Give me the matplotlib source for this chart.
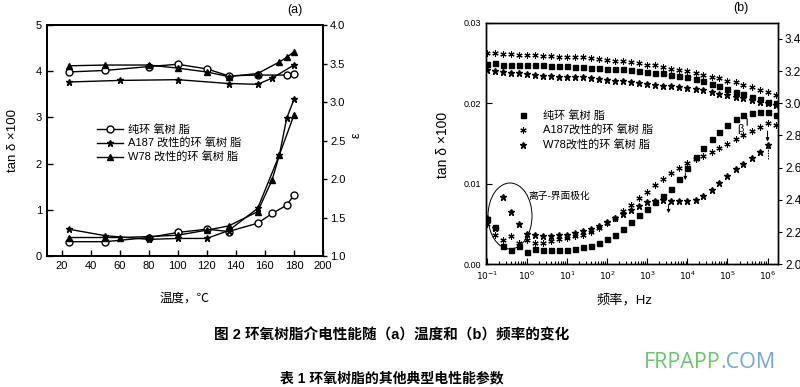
import numpy as np
import matplotlib.pyplot as plt
from matplotlib.patches import Ellipse

plt.rcParams['font.family'] = ['Liberation Sans', 'Noto Sans CJK SC', 'DejaVu Sans']

# ---- (a) 温度 ----
t_pure = [25, 50, 80, 100, 120, 135, 155, 165, 175, 180]
tan_pure_t = [0.31, 0.31, 0.40, 0.51, 0.58, 0.53, 0.71, 0.92, 1.10, 1.32]
t_pure_eps = [25, 50, 80, 100, 120, 135, 155, 175, 180]
eps_pure_t = [3.39, 3.41, 3.46, 3.49, 3.43, 3.34, 3.35, 3.35, 3.36]

t_a187 = [25, 50, 80, 100, 120, 135, 155, 170, 175, 180]
tan_a187_t = [0.58, 0.44, 0.36, 0.38, 0.38, 0.55, 1.03, 2.19, 2.98, 3.39]
t_a187_eps = [25, 60, 100, 135, 155, 165, 180]
eps_a187_t = [3.26, 3.28, 3.29, 3.24, 3.23, 3.31, 3.48]

t_w78 = [25, 50, 60, 80, 100, 120, 135, 155, 165, 170, 180]
tan_w78_t = [0.40, 0.40, 0.40, 0.42, 0.45, 0.56, 0.65, 0.96, 1.65, 2.19, 3.05]
t_w78_eps = [25, 50, 80, 100, 120, 135, 155, 170, 175, 180]
eps_w78_t = [3.47, 3.48, 3.48, 3.44, 3.39, 3.33, 3.37, 3.52, 3.58, 3.65]

# ---- (b) 频率 ----
freq = [0.1, 0.16, 0.25, 0.4, 0.63, 1, 1.6, 2.5, 4, 6.3,
        10, 16, 25, 40, 63, 100, 160, 250, 400, 630,
        1e3, 1.6e3, 2.5e3, 4e3, 6.3e3, 1e4, 1.6e4, 2.5e4, 4e4, 6.3e4,
        1e5, 1.6e5, 2.5e5, 4e5, 6.3e5, 1e6, 1.6e6]

tan_pure_f = [0.0056, 0.0046, 0.0023, 0.0018, 0.0023, 0.0015, 0.0019, 0.0018, 0.0018, 0.0018,
              0.0018, 0.0019, 0.0021, 0.0023, 0.0026, 0.0031, 0.0037, 0.0044, 0.0052, 0.0061,
              0.0069, 0.0077, 0.0085, 0.0094, 0.0106, 0.0120, 0.0133, 0.0144, 0.0155, 0.0164,
              0.0173, 0.0180, 0.0185, 0.0188, 0.0189, 0.0189, 0.0186]
tan_a187_f = [0.0050, 0.0036, 0.0030, 0.0035, 0.0027, 0.0030, 0.0026, 0.0027, 0.0029, 0.0031,
              0.0033, 0.0035, 0.0037, 0.0040, 0.0045, 0.0051, 0.0058, 0.0066, 0.0074, 0.0082,
              0.0090, 0.0098, 0.0106, 0.0113, 0.0120, 0.0126, 0.0131, 0.0135, 0.0140, 0.0144,
              0.0149, 0.0155, 0.0161, 0.0166, 0.0171, 0.0175, 0.0173]
tan_w78_f = [0.0058, 0.0045, 0.0083, 0.0065, 0.0050, 0.0038, 0.0036, 0.0035, 0.0035, 0.0036,
             0.0037, 0.0039, 0.0041, 0.0044, 0.0048, 0.0053, 0.0058, 0.0063, 0.0068, 0.0073,
             0.0077, 0.0079, 0.0080, 0.0079, 0.0078, 0.0078, 0.0080, 0.0085, 0.0092, 0.0101,
             0.0110, 0.0118, 0.0125, 0.0132, 0.0139, 0.0148, np.nan]

eps_pure_f = [3.245, 3.25, 3.24, 3.24, 3.24, 3.235, 3.235, 3.235, 3.23, 3.23,
              3.23, 3.225, 3.225, 3.22, 3.22, 3.215, 3.21, 3.21, 3.205, 3.20,
              3.195, 3.19, 3.185, 3.175, 3.17, 3.16, 3.15, 3.135, 3.12, 3.105,
              3.09, 3.07, 3.055, 3.04, 3.025, 3.01, 3.00]
eps_a187_f = [3.31, 3.31, 3.305, 3.305, 3.30, 3.30, 3.30, 3.295, 3.295, 3.29,
              3.29, 3.29, 3.285, 3.28, 3.275, 3.27, 3.265, 3.26, 3.255, 3.25,
              3.24, 3.235, 3.225, 3.215, 3.205, 3.20, 3.19, 3.175, 3.165, 3.155,
              3.14, 3.13, 3.115, 3.10, 3.085, 3.07, 3.05]
eps_w78_f = [3.205, 3.20, 3.195, 3.19, 3.185, 3.18, 3.175, 3.17, 3.17, 3.165,
             3.165, 3.16, 3.16, 3.155, 3.15, 3.145, 3.14, 3.135, 3.13, 3.125,
             3.12, 3.115, 3.11, 3.105, 3.10, 3.095, 3.09, 3.08, 3.07, 3.06,
             3.05, 3.04, 3.03, 3.02, 3.01, 3.00, 2.99]

lab_a = ['纯环 氧树 脂', 'A187 改性的环 氧树 脂', 'W78 改性的环 氧树 脂']
lab_b = ['纯环 氧树 脂', 'A187改性的环 氧树 脂', 'W78改性的环 氧树 脂']

fig = plt.figure(figsize=(8, 3.87), dpi=100)
W, H = 800, 387

# panel (a)
ax1 = fig.add_axes([47 / W, 1 - 256 / H, 276 / W, 231 / H])
ax1r = ax1.twinx()
kw = dict(color='black', lw=1.0, ms=5)
l1, = ax1.plot(t_pure, tan_pure_t, marker='o', mfc='white', **kw)
l2, = ax1.plot(t_a187, tan_a187_t, marker='*', **kw)
l3, = ax1.plot(t_w78, tan_w78_t, marker='^', **kw)
ax1r.plot(t_pure_eps, eps_pure_t, marker='o', mfc='white', **kw)
ax1r.plot(t_a187_eps, eps_a187_t, marker='*', **kw)
ax1r.plot(t_w78_eps, eps_w78_t, marker='^', **kw)

ax1.set_xlim(10, 200)
ax1.set_ylim(0, 5)
ax1r.set_ylim(1.0, 4.0)
ax1.set_xticks(range(20, 201, 20))
ax1.set_yticks(range(0, 6))
ax1r.set_yticks(np.arange(1.0, 4.01, 0.5))
ax1r.set_yticklabels([f'{v:.1f}' for v in np.arange(1.0, 4.01, 0.5)])
ax1.tick_params(direction='in', labelsize=8, length=4, width=1)
ax1r.tick_params(direction='out', labelsize=8, length=3, width=1, pad=2)
for a in (ax1, ax1r):
    for s in a.spines.values():
        s.set_linewidth(1.3)

ax1.legend([l1, l2, l3], lab_a, loc='upper left', frameon=False,
           bbox_to_anchor=((97 - 47) / 276, (256 - 124) / 231), borderaxespad=0,
           borderpad=0, handlelength=2.3, labelspacing=0.28, handletextpad=0.5,
           fontsize=8)

# panel (b)
ax2 = fig.add_axes([486 / W, 1 - 264.3 / H, 292 / W, 241.6 / H])
ax2r = ax2.twinx()
ax2.set_xscale('log')
ast = (6, 2, 0)
m1, = ax2.plot(freq, tan_pure_f, ls='none', marker='s', color='black', ms=3.6)
m2, = ax2.plot(freq, tan_a187_f, ls='none', marker=ast, color='black', ms=4.5, mew=0.8)
m3, = ax2.plot(freq, tan_w78_f, ls='none', marker='*', color='black', ms=4.5)
ax2r.plot(freq, eps_pure_f, ls='none', marker='s', color='black', ms=3.6)
ax2r.plot(freq, eps_a187_f, ls='none', marker=ast, color='black', ms=4.5, mew=0.8)
ax2r.plot(freq, eps_w78_f, ls='none', marker='*', color='black', ms=4.5)

ax2.set_xlim(10 ** -1.02, 10 ** 6.26)
ax2.set_ylim(0, 0.03)
ax2r.set_ylim(2.0, 3.5)
ax2.set_xticks([10.0 ** k for k in range(-1, 7)])
ax2.set_xticklabels([f'$10^{{{k}}}$' for k in range(-1, 7)])
ax2.set_yticks([0, 0.01, 0.02, 0.03])
ax2.set_yticklabels(['0.00', '0.01', '0.02', '0.03'])
ax2r.set_yticks(np.arange(2.0, 3.41, 0.2))
ax2r.set_yticklabels([f'{v:.1f}' for v in np.arange(2.0, 3.41, 0.2)])
ax2.tick_params(which='both', direction='in', labelsize=6.5, width=0.8)
ax2.tick_params(which='major', length=4)
ax2.tick_params(which='minor', length=2)
ax2r.tick_params(direction='out', labelsize=8.5, length=3, pad=2)
for a in (ax2, ax2r):
    for s in a.spines.values():
        s.set_linewidth(1.0)

ax2.legend([m1, m2, m3], lab_b, loc='upper left', frameon=False,
           bbox_to_anchor=((516 - 486) / 292, (264.3 - 110) / 241.6), borderaxespad=0,
           borderpad=0, handlelength=1.2, labelspacing=0.35, handletextpad=1.2,
           fontsize=8)

# annotations in (b)
ax2.add_patch(Ellipse(((510 - 486) / 292, (264.3 - 216) / 241.6), 44 / 292, 66 / 241.6,
                      transform=ax2.transAxes, fill=False, lw=0.7, color='black'))
ax2.text(1.06, 0.0085, '离子-界面极化', fontsize=7, va='center')
ax2.text(2.1e5, 0.0168, 'β', fontsize=8, va='center', ha='center')
arr = dict(arrowstyle='-|>', lw=0.7, color='black', mutation_scale=5)
ax2.annotate('', xy=(3.1e5, 0.0169), xytext=(3.1e5, 0.0184),
             arrowprops=dict(arrowstyle='-', lw=0.8, color='black'))
ax2.annotate('', xy=(3.4e3, 0.0060), xytext=(3.4e3, 0.0078), arrowprops=arr)
ax2.annotate('', xy=(8.9e3, 0.0101), xytext=(8.9e3, 0.0117), arrowprops=arr)
ax2.annotate('', xy=(1.0e6, 0.0149), xytext=(1.0e6, 0.0169), arrowprops=arr)
ax2.annotate('', xy=(1.05e6, 0.0126), xytext=(1.05e6, 0.0148),
             arrowprops=dict(arrowstyle='-', lw=0.7, ls=':', color='black'))

# labels
fig.text(295 / W, 1 - 10 / H, '(a)', fontsize=9, ha='center', va='center')
fig.text(741 / W, 1 - 8 / H, '(b)', fontsize=9, ha='center', va='center')
fig.text(13 / W, 1 - 140 / H, 'tan δ ×100', fontsize=9.5, rotation=90, ha='center', va='center')
fig.text(357 / W, 1 - 135 / H, 'ε', fontsize=9, rotation=90, ha='center', va='center')
fig.text(443 / W, 1 - 145 / H, 'tan δ ×100', fontsize=10, rotation=90, ha='center', va='center')
fig.text(185 / W, 1 - 299 / H, '温度，℃', fontsize=9, ha='center', va='center')
fig.text(625 / W, 1 - 300 / H, '频率，Hz', fontsize=9.5, ha='center', va='center')

fig.text(392 / W, 1 - 335 / H, '图 2 环氧树脂介电性能随（a）温度和（b）频率的变化',
         fontsize=10.5, weight='bold', ha='center', va='center')
fig.text(392 / W, 1 - 378 / H, '表 1 环氧树脂的其他典型电性能参数',
         fontsize=10, weight='bold', ha='center', va='center')
fig.text(720 / W, 1 - 362 / H, 'FRPAPP', fontsize=15.5, family='Open Sans',
         color='#6cc46c', ha='right', va='center')
fig.text(720 / W, 1 - 362 / H, '.COM', fontsize=15.5, family='Open Sans',
         color='#6fa8dc', ha='left', va='center')

fig.savefig('out.png', dpi=100)
